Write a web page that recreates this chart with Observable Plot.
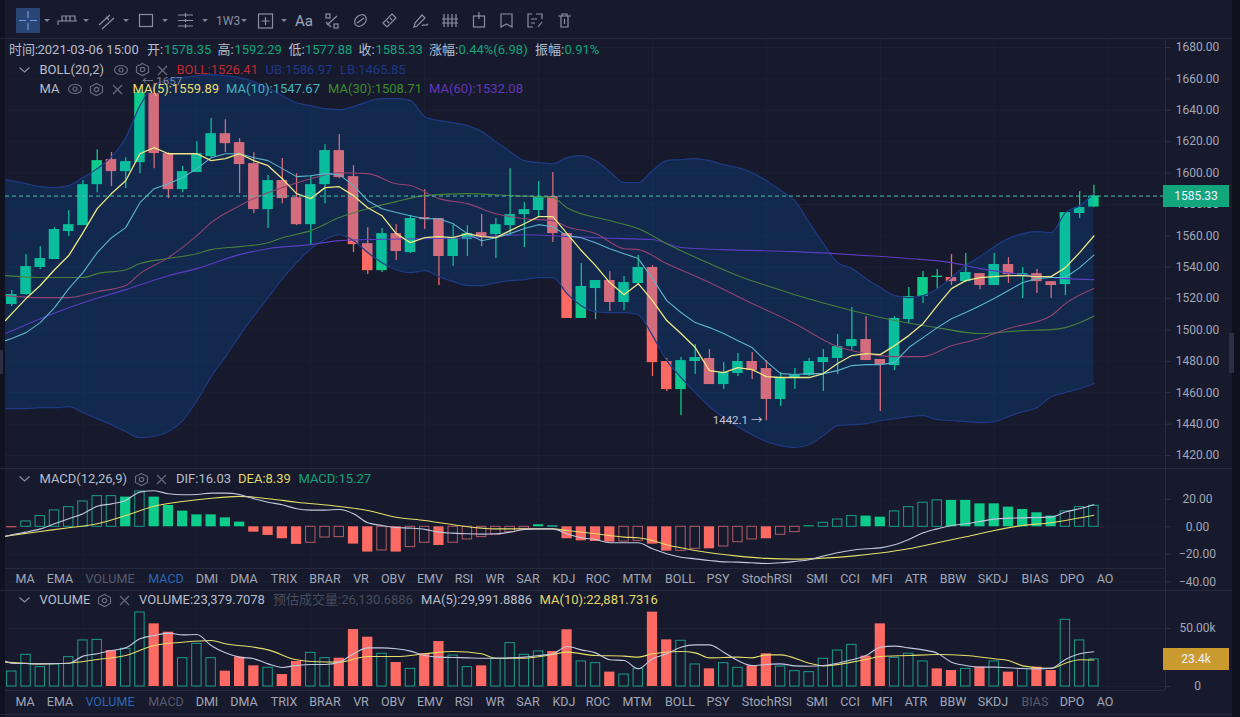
<!DOCTYPE html>
<html><head><meta charset="utf-8">
<script src="https://cdn.jsdelivr.net/npm/d3@7"></script>
<script src="https://cdn.jsdelivr.net/npm/@observablehq/plot@0.6"></script>
<style>
html,body{margin:0;padding:0;background:#161a2c;overflow:hidden}
#page{position:relative;width:1240px;height:717px;overflow:hidden;background:#161a2c;font-family:Roboto,"Noto Sans CJK SC",sans-serif;font-size:13px}
#page svg.chart{position:absolute;left:0;background:transparent;overflow:visible}
.t{position:absolute;white-space:pre;line-height:16px;transform:translateY(-8px)}
.box{position:absolute}
.ic{position:absolute;overflow:visible}
.tag{position:absolute;left:1163px;width:66px;height:22px;line-height:22px;text-align:center;color:#eef;font-size:12px;transform:translateY(-11px)}
</style></head><body><div id="page"></div>
<script>
// ---------- candles ----------
const candleOpen=[1516.2,1522.6,1539.8,1544.9,1562.7,1566.5,1592.6,1608.6,1600.9,1606.6,1650.6,1612.4,1589.4,1600.3,1610.5,1625.1,1619.4,1606,1576.7,1595.2,1584.3,1567.1,1592.6,1614.3,1597.7,1555,1537.8,1561.4,1549.3,1571.6,1571,1546.8,1557.6,1562,1560.8,1566.5,1573.5,1576.1,1585,1561.4,1507.3,1526.4,1531.5,1517.5,1529.6,1539.8,1479.9,1462,1479.9,1481.8,1465.2,1472.2,1479.9,1475.4,1455.7,1469.1,1471,1479.2,1481.8,1489.4,1493.9,1481.2,1477.3,1506.6,1521.3,1533.4,1533.4,1530.8,1535.9,1528.3,1541.7,1534,1535.9,1530.8,1528.9,1574.2,1578.35];
const candleClose=[1522.6,1540.4,1545.5,1564,1567.1,1592.6,1607.9,1600.9,1607.3,1651.2,1612.4,1589.4,1600.9,1612.4,1625.1,1618.7,1605.4,1576.7,1595.2,1583.7,1567.1,1592.6,1614.3,1597.1,1554.4,1537.8,1561.4,1550,1571,1570.3,1546.8,1558.2,1561.4,1559.5,1567.1,1573.5,1576.7,1585,1561.4,1507.3,1527.7,1531.5,1517.5,1530.2,1539.8,1479.2,1462,1480.5,1482.4,1465.2,1472.9,1479.9,1474.1,1455.7,1469.7,1471,1479.9,1482.4,1489.4,1493.9,1480.5,1478,1507.3,1521.3,1533.4,1534.3,1530.8,1536.6,1528.3,1541.7,1535.3,1535.9,1530.8,1528.3,1574.8,1578,1585.33];
const candleHigh=[1525.1,1548,1553.1,1565.2,1576.1,1595.2,1614.9,1613,1609.8,1653.8,1657,1613,1604.1,1620,1634.7,1634,1621.9,1613,1598.4,1609.2,1599.6,1598.4,1618.1,1624.5,1604.7,1565.2,1564.6,1567.1,1572.9,1589.4,1571,1566.5,1566.5,1573.5,1571,1602.8,1581.2,1594.5,1600.3,1561.4,1542.3,1531.5,1537.2,1534,1547.4,1541,1481.8,1482.4,1490.7,1487.5,1479.2,1485,1485.6,1480.5,1472.9,1475.4,1481.8,1487.5,1497.1,1514.3,1508.5,1481.2,1508.5,1527,1537.2,1538.5,1548,1548.7,1535.9,1548.7,1546.1,1539.8,1538.5,1530.8,1574.8,1588.2,1592.29];
const candleLow=[1514.9,1521.9,1538.5,1544.9,1559.5,1566.5,1587.5,1591.4,1590.1,1599.6,1602.8,1583.7,1587.5,1600.3,1609.8,1613,1586.9,1574.2,1564.6,1580.5,1566.5,1553.8,1580.5,1596.4,1549.3,1535.3,1536.6,1544.2,1548.7,1564,1528.3,1540.4,1546.8,1553.1,1545.5,1560.1,1552.5,1572.2,1555.7,1507.3,1507.3,1506.6,1511.7,1512.4,1528.9,1470.3,1460.8,1445.5,1471.6,1465.2,1462,1470.3,1468.4,1442.1,1451.2,1462,1470.3,1460.8,1471.6,1486.9,1480.5,1448,1474.1,1504.1,1516.8,1525.7,1528.3,1530.2,1525.7,1528.3,1529.6,1520,1523.2,1520,1521.9,1571,1577.88];
// ---------- Bollinger band (first value sits at the left edge of the pane) ----------
const lineIndex=[-0.44,...d3.range(77)];
const bollUpper=[1595.8,1595.1,1593.2,1591.3,1590.7,1592,1597.1,1602.8,1610.4,1622.5,1642.9,1655.7,1659.5,1660.8,1662,1662.7,1662,1660.8,1658.2,1654.4,1649.3,1644.8,1642.9,1641,1640.4,1642.3,1645.5,1647.4,1647.4,1646.1,1635.9,1633.4,1632.1,1630.2,1626.4,1620,1613.6,1607.9,1606.6,1606,1609.8,1611.1,1607.9,1600.9,1593.9,1593.9,1601.5,1607.9,1608.5,1609.2,1607.9,1605.3,1603.4,1600.2,1595.1,1588.8,1582.4,1568.4,1555,1542.9,1539.1,1532.7,1527,1521.9,1520.6,1521.9,1526.3,1533.4,1541,1546.7,1553.1,1558.2,1561.4,1562.7,1562,1574.8,1579.2,1586.97];
const bollLower=[1449.9,1449.9,1449.9,1450.5,1450.5,1451.2,1447.4,1443.5,1439.7,1435.3,1431.4,1432.1,1435.3,1442.3,1455,1470.3,1483,1496.4,1509.1,1520.6,1532.7,1542.9,1551.8,1557.6,1560.7,1556.9,1549.3,1542.9,1538.4,1536.5,1537.8,1534,1530.8,1528.3,1528.3,1530.2,1531.4,1532.1,1533.4,1533.4,1523.2,1515.5,1511.7,1511.1,1511.1,1509.8,1496.4,1480.5,1469.7,1460.1,1451.2,1444.2,1438.4,1433.3,1428.9,1426.3,1425.1,1427,1432.7,1439.1,1439.7,1440.3,1442.3,1443.5,1444.8,1445.4,1442.9,1442.3,1441.6,1441,1441.6,1444.8,1448,1450.5,1457.5,1460.1,1462.6,1465.85];
// ---------- moving averages ----------
const ma5=[1506,1510.4,1520,1528.3,1538.4,1547.4,1562,1577.3,1586.9,1595.1,1612.3,1616.2,1612.3,1612.3,1612.3,1607.9,1609.2,1612.3,1607.9,1604.7,1596.4,1586.9,1583.7,1590.7,1591.3,1585.6,1577.9,1572.8,1561.4,1555.6,1558.8,1559.5,1558.8,1561.4,1559.5,1558.8,1563.3,1567.7,1572.2,1572.2,1561.4,1550.6,1541,1530.2,1522.5,1529.5,1518.7,1506,1497.7,1488.8,1474.1,1472.8,1476,1474.7,1470.3,1469.7,1469.7,1469.7,1472.2,1478.6,1483.7,1484.9,1484.3,1490,1496.4,1504,1515.5,1526.3,1531.4,1533.4,1534,1534.6,1534.6,1534,1534,1539.7,1549.3,1559.89];
const ma10=[1493.2,1494.5,1498.3,1504.7,1514.2,1526.3,1536.5,1549.3,1558.8,1565.2,1581.1,1590,1593.2,1597.1,1602.8,1609.8,1612.3,1612.3,1609.8,1607.9,1602.8,1597.7,1598.3,1599.6,1599,1592,1582.4,1577.3,1574.8,1572.8,1570.9,1570.9,1567.7,1561.4,1556.9,1558.8,1561.4,1564.6,1567.1,1565.8,1560.1,1558.8,1555.6,1551.8,1548.6,1545.5,1532.7,1518.7,1511.1,1504.7,1501.5,1497.7,1493.2,1488.8,1479.8,1472.2,1471.6,1472.2,1472.2,1474.1,1477.3,1477.9,1477.9,1479.2,1488.8,1495.1,1501.5,1507.2,1511.1,1515.5,1520,1525.1,1530.2,1532.7,1533.4,1533.4,1539.7,1547.67];
const ma20Index=[-0.44,2,4,6,8,9,11,13,14,16,17,19,21,23,25,27,28,30,32,34,36,38,39,41,43,44,46,49,52,54,55,58,60,62,64,66,68,70,73,74,76];
const ma20=[1521.9,1520.6,1520.6,1524.4,1528.3,1535.9,1546.1,1560.1,1568.4,1579.2,1583.7,1590.7,1596.4,1600.2,1599.6,1593.2,1592,1583.7,1580.5,1574.1,1570.9,1569.7,1565.8,1561.4,1551.8,1551.2,1542.3,1530.2,1516.8,1508.5,1504,1489.4,1484.9,1483,1483,1490,1494.5,1500.9,1509.1,1516.8,1526.41];
const ma30Index=[-0.44,2,5,6,8,9,11,13,14,16,18,19,21,23,25,27,29,32,35,38,39,42,44,46,49,51,53,55,59,62,65,68,71,73,74,76];
const ma30=[1534.6,1533.4,1533.4,1535.9,1538.4,1542.3,1545.5,1548.6,1551.2,1553.1,1555.6,1558.8,1563.3,1571.6,1577.3,1581.8,1585.6,1586.9,1585.6,1584.3,1577.9,1569.7,1564.6,1555,1542.3,1534.6,1528.3,1522.5,1512.4,1506,1501.5,1497.7,1499.6,1500.2,1501.5,1508.71];
const ma60Index=[-0.44,2,5,8,11,13,16,18,21,23,25,32,36,39,43,45,47,50,55,60,63,66,68,71,74,76];
const ma60=[1497.7,1507.2,1517.4,1525.7,1534.6,1539.1,1548,1551.8,1554.4,1556.9,1557.6,1558.8,1560.7,1559.5,1558.2,1557.6,1552.5,1551.2,1549.9,1547.4,1545.5,1542.9,1539.1,1535.3,1532.7,1532.08];
const priceTicks=[1420,1440,1460,1480,1500,1520,1540,1560,1580,1600,1620,1640,1660,1680];
const lastPrice=1585.33, highMark=1657, lowMark=1442.1;
// ---------- MACD ----------
const macdHist=[-0.7,3.9,7.8,11.9,14.3,18.4,22.3,22.3,21.6,25.7,21.6,15.5,11.4,8.7,8.7,6.5,3.4,-3.9,-6.3,-8.7,-12.8,-11.6,-7.8,-7.5,-12.6,-18.4,-17.2,-18.4,-14.8,-11.6,-13.6,-11.6,-9.2,-7.5,-5.8,-3.9,-1.5,1.5,0.5,-8.7,-10.2,-10.7,-11.2,-10.7,-10.2,-12.6,-17.7,-17.5,-16,-16,-14.3,-11.2,-9.2,-8.7,-5.8,-3.9,0.7,2.9,5.3,7.8,7.8,7,11.2,14.3,17.5,19.2,19.2,19.2,16.7,16.7,14.3,12.6,10.2,7.8,11.2,14.3,15.27];
const macdSolid=[0,8,10,11,12,13,14,15,16,17,18,19,20,24,25,27,30,37,39,40,41,42,45,46,49,53,56,60,61,66,67,68,69,70,71,72,73];
const dif=[-7,-5.8,-3.9,-1.5,2.2,5.8,9.5,15,16.7,19.2,25.2,26.2,24,23.3,23.5,24.5,24.5,23.5,20.4,17.9,16,13.1,12.1,12.1,12.6,9.5,2.9,1,-0.5,-1,-1.9,-3.9,-4.6,-5.1,-5.3,-5.1,-3.9,-1.9,-1.5,-1.5,-5.1,-8,-9.2,-11.6,-11.6,-11.6,-16,-19.6,-22.1,-23.3,-24.5,-25.5,-25.7,-26.2,-26.7,-26.2,-25.2,-24,-21.3,-18.9,-17,-16,-15.3,-13.1,-9.2,-4.4,-1.5,1,2.2,3.9,5.6,6.3,6.5,6.8,7,10.7,13.1,16.03];
const deaIndex=[-0.44,2,4,6,8,10,12,14,16,18,20,23,25,27,29,31,34,36,38,39,41,43,44,45,46,48,51,53,55,57,59,61,63,65,67,69,71,73,74,76];
const dea=[-6.8,-3.4,-0.7,2.2,8.2,15,18.4,20.8,22.1,20.4,17.9,14.8,11.9,7,4.6,1.5,-1.5,-1.5,-1.5,-2.7,-5.1,-7.5,-8,-9.9,-13.1,-17.2,-21.3,-23,-23.5,-22.8,-21.3,-19.1,-16,-11.6,-7.3,-2.7,1,2.9,4.6,8.39];
const macdTicks=[-40,-20,0,20];
// ---------- volume (thousands) ----------
const volume=[12.9,27.3,16.7,19,25.3,39.7,40.2,31,32.5,63.8,54,46.8,24.4,36.8,24.4,13.2,25.3,17.8,16.1,10.3,21.6,29,24.4,24.4,49.1,42.5,28.2,20.7,15.2,28.2,38.8,26.7,16.7,17.8,23.9,37.4,27.3,30.2,30.2,48.9,21.6,20.1,12.4,10.3,15.2,64.1,40.2,39.4,19,15.2,20.1,16.1,17.8,28.2,17.2,13.2,12.4,23.9,31,35.9,26.2,54,24.7,28.2,21.6,15.2,13.8,15.2,16.7,21.6,12.4,15.2,16.7,13.8,57.5,39.7,23.4];
const volumeDown=[7,10,11,15,16,17,19,20,23,24,25,27,29,30,33,38,39,42,45,46,49,52,53,60,61,65,66,68,70,72,73];
const volMa5=[21.8,20.1,19.8,19.5,19.8,20.1,26.2,28.2,31,33.3,41.1,44,46,44.5,44.8,35.4,29,25.3,23.9,19.5,16.4,18.1,19,19,21,28.2,33.3,33.3,32.5,30.5,26.7,25.3,25,24.7,24.4,24.4,24.7,25.3,26.7,28.2,34.5,31.6,29,23,22.4,15.2,23.9,28.2,33.9,35.9,35.9,29.6,22.4,18.1,19,19.5,17.8,17.5,18.1,20.1,23,26.7,33.9,34.8,33.3,31.6,28.7,21,18.1,16.7,16.7,16.1,15.5,15.2,15.8,23.3,28.2,29.99];
const volMa10Index=[-0.44,2,4,6,8,10,12,14,15,17,18,20,21,23,25,27,29,31,33,34,36,38,39,41,43,44,45,47,48,49,51,52,53,54,56,57,59,60,61,63,65,67,69,70,71,73,74,75,76];
const volMa10=[21,19.5,20.1,23.3,26.7,35.4,38.2,39.7,36.8,33.9,31.6,23,21.6,21,25.9,25.9,28.2,30.2,28.2,24.4,24.4,27.6,29.6,26.7,26.2,25.3,28.2,30.2,29,24.7,25.3,24.7,27.3,27.3,20.1,17.8,21,23.3,25.9,26.7,27.6,26.7,23.9,22.4,17.8,15.5,20.1,23,22.88];
const volumeTicks=[0,50];
const lastVolume=23.38;
// ---------- tabs ----------
const tabNames=["MA","EMA","VOLUME","MACD","DMI","DMA","TRIX","BRAR","VR","OBV","EMV","RSI","WR","SAR","KDJ","ROC","MTM","BOLL","PSY","StochRSI","SMI","CCI","MFI","ATR","BBW","SKDJ","BIAS","DPO","AO"];
const tabCentres=[25,60,110,166,207,244,284,325,361,393,430,464,495,528,564,598,637,680,718,767,817,850,882,916,953,993,1035,1072,1105];

// ---------- colours ----------
const UP="#0dcb8a",DOWN="#fc6a63",UPH="#1a9d8a",DOWNH="#b45c66",AXIS="#a2a7b8",GRID="#1b2034";
const page=document.getElementById("page");
const xScale={domain:[-0.4425,81.03],axis:null};
const base={width:1240,marginLeft:5,marginRight:75,marginTop:0,marginBottom:0,x:xScale,
  style:{background:"transparent",fontFamily:'Roboto,"Noto Sans CJK SC",sans-serif',fontSize:"12px"}};
const gridIdx=[5,13,21,29,37,45,53,61,69,77];
const seq=(ix,vs)=>ix.map((i,k)=>({i,v:vs[k]}));
const HALF=0.37;
const line=(rows,stroke,w=1.1,curve="monotone-x")=>Plot.line(rows,{x:"i",y:"v",stroke,strokeWidth:w,curve});
const axis=(ticks,fmt)=>Plot.axisY(ticks,{anchor:"right",label:null,tickSize:5,tickPadding:27,textAnchor:"middle",stroke:"#2d3247",fill:AXIS,textStroke:"none",tickFormat:fmt});
const grid=(ticks)=>[Plot.ruleX(gridIdx,{stroke:GRID}),Plot.ruleY(ticks,{stroke:GRID})];
function place(svg,top){svg.classList.add("chart");svg.style.top=top+"px";page.appendChild(svg);return svg;}

// ---------- main pane ----------
const candles=candleOpen.map((o,i)=>({i,o,c:candleClose[i],h:candleHigh[i],l:candleLow[i],up:candleClose[i]>=o}));
const band=lineIndex.map((i,k)=>({i,u:bollUpper[k],l:bollLower[k]}));
const candleMarks=(rows,color)=>[
  Plot.ruleX(rows,{x:"i",y1:"l",y2:"h",stroke:color,strokeWidth:1.3}),
  Plot.rect(rows,{x1:d=>d.i-HALF,x2:d=>d.i+HALF,y1:d=>Math.min(d.o,d.c),y2:d=>Math.max(d.o,d.c),fill:color})];
const main=Plot.plot({...base,height:430,y:{domain:[1411.72,1685.73],axis:null},marks:[
  ...grid(priceTicks),
  ...candleMarks(candles.filter(d=>!d.up),DOWN),
  ...candleMarks(candles.filter(d=>d.up),UP),
  Plot.areaY(band,{x:"i",y1:"l",y2:"u",fill:"#0078ff",fillOpacity:0.16,curve:"monotone-x"}),
  Plot.line(band,{x:"i",y:"u",stroke:"#1f3a85",strokeWidth:1.2,curve:"monotone-x"}),
  Plot.line(band,{x:"i",y:"l",stroke:"#1f3a85",strokeWidth:1.2,curve:"monotone-x"}),
  line(seq(ma60Index,ma60),"#5a3dc0"),
  line(seq(ma30Index,ma30),"#4a7f3c"),
  line(seq(ma20Index,ma20),"#94436f"),
  line(seq(lineIndex,ma10),"#5cb4cc",1.1,"linear"),
  line(seq(lineIndex,ma5),"#efe783",1.3,"linear"),
  Plot.ruleY([lastPrice],{stroke:"#46c4ae",strokeDasharray:"4 3",strokeWidth:1}),
  Plot.text([highMark],{x:10,y:d=>d,text:d=>"← "+d,textAnchor:"end",dx:28,dy:-2,fill:"#7f8496",fontSize:11.5}),
  Plot.text([lowMark],{x:53,y:d=>d,text:d=>d+" →",textAnchor:"end",dx:-4,dy:-1,fill:"#c2c6d6",fontSize:11.5}),
  axis(priceTicks,d3.format(".2f"))
]});
place(main,38);

// ---------- MACD pane ----------
const hist=macdHist.map((v,i)=>({i,v,solid:macdSolid.includes(i)}));
const histMarks=(rows,color)=>Plot.rect(rows.filter(d=>d.solid),{x1:d=>d.i-0.36,x2:d=>d.i+0.36,y1:0,y2:"v",fill:color});
const hollowMarks=(rows,color)=>Plot.rect(rows.filter(d=>!d.solid),{x1:d=>d.i-0.33,x2:d=>d.i+0.33,y1:0,y2:"v",fill:"none",stroke:color,strokeWidth:1});
const macd=Plot.plot({...base,height:122,y:{domain:[-46.33,42.4],axis:null},marks:[
  ...grid(macdTicks),
  histMarks(hist.filter(d=>d.v>=0),UP),histMarks(hist.filter(d=>d.v<0),DOWN),
  hollowMarks(hist.filter(d=>d.v>=0),UPH),hollowMarks(hist.filter(d=>d.v<0),DOWNH),
  line(seq(deaIndex,dea),"#e6dd6a"),
  line(seq(lineIndex,dif),"#c3c7e0"),
  axis(macdTicks,d3.format(".2f"))
]});
place(macd,468);

// ---------- Volume pane ----------
const vols=volume.map((v,i)=>({i,v,solid:volumeDown.includes(i)}));
const vol=Plot.plot({...base,height:105,y:{domain:[-7.76,82.76],axis:null},marks:[
  ...grid(volumeTicks),
  Plot.rect(vols.filter(d=>d.solid),{x1:d=>d.i-0.36,x2:d=>d.i+0.36,y1:0,y2:"v",fill:DOWN}),
  Plot.rect(vols.filter(d=>!d.solid),{x1:d=>d.i-0.33,x2:d=>d.i+0.33,y1:0,y2:"v",fill:"none",stroke:UPH,strokeWidth:1}),
  line(seq(volMa10Index,volMa10),"#e6dd6a"),
  line(seq(lineIndex,volMa5),"#c3c7e0"),
  axis(volumeTicks,d=>d===0?"0":d3.format(".2f")(d)+"k")
]});
place(vol,590);

// ---------- chrome ----------
function box(l,t,w,h,bg){const d=document.createElement("div");d.className="box";d.style.cssText=`left:${l}px;top:${t}px;width:${w}px;height:${h}px;background:${bg}`;page.appendChild(d);return d;}
function txt(x,y,s,color,opts={}){const d=document.createElement("div");d.className="t";d.textContent=s;d.style.left=x+"px";d.style.top=y+"px";d.style.color=color;
  if(opts.size)d.style.fontSize=opts.size+"px";
  if(opts.center)d.style.transform="translate(-50%,-8px)";page.appendChild(d);return d;}
function icon(x,y,w,h,inner,color="#8a90a4"){const s=document.createElementNS("http://www.w3.org/2000/svg","svg");s.setAttribute("class","ic");s.setAttribute("width",w);s.setAttribute("height",h);s.style.left=x+"px";s.style.top=y+"px";
  s.innerHTML=`<g fill="none" stroke="${color}" stroke-width="1.2">${inner}</g>`;page.appendChild(s);}
const eye='<ellipse cx="7" cy="6" rx="6.5" ry="4.5"/><circle cx="7" cy="6" r="2"/>';
const hex='<path d="M6.5 0.5L12.5 3.5V9.5L6.5 12.5L0.5 9.5V3.5Z"/><circle cx="6.5" cy="6.5" r="2.2"/>';
const cross='<path d="M1 1L10 10M10 1L1 10"/>';
const chev='<path d="M0.5 0.5L5.5 5L10.5 0.5"/>';
const L="#b9bdcc",G="#12a37c";
// strips and separators
box(0,0,5,717,"#10131f");box(1232,0,8,717,"#0e111c");
box(1229,333,5,40,"#2a2f45");box(0,350,3,24,"#2a2f45");
box(0,38,1232,1,"#22273a");box(0,468,1232,1,"#252a3e");box(0,590,1232,1,"#252a3e");
box(5,568,1160,1,"#252a3e");box(5,690,1160,1,"#252a3e");box(0,714,1232,1,"#22273a");
box(1165,38,1,652,"#262b40");
// toolbar
box(16,8,24,25,"#2a4677");
icon(16,8,24,25,'<path d="M12 3V10M12 15V22M3 12.5H10M14 12.5H21"/>',"#6d9ae0");
const caret=x=>icon(x,19,6,4,'<path d="M0 0H6L3 3Z" fill="#7d8397" stroke="none"/>');
[44,83,123,162,202,241,281].forEach(caret);
icon(57,14,21,12,'<path d="M1 11V7H20M5 7V2H18V7M9 2V7M13 2V7"/>');
icon(98,12,17,18,'<path d="M1 13L12 3M4 17L16 6M8 5L11 8"/>');
icon(139,14,14,13,'<rect x="0.5" y="0.5" width="13" height="12"/>');
icon(178,13,15,15,'<path d="M0 2H15M0 7.5H15M0 13H15M7.5 0V4M7.5 6V9M7.5 11V15"/>');
txt(216,21,"1W3","#8a90a4",{size:12});
icon(258,13,15,16,'<rect x="0.5" y="1" width="14" height="14"/><path d="M7.5 4V12M3.5 8H11.5"/>');
txt(295,21,"Aa","#a3a8ba",{size:15});
icon(325,13,14,16,'<rect x="1" y="1" width="4" height="4"/><rect x="9" y="11" width="4" height="4"/><path d="M2 12L12 3M1 9L6 14"/>');
icon(353,13,15,15,'<ellipse cx="7.5" cy="7.5" rx="6.5" ry="5" transform="rotate(-45 7.5 7.5)"/><path d="M4 10L11 5"/>');
icon(382,13,15,15,'<path d="M10 1L14 5L5 14L1 10ZM8 5L10 7M5 8L7 10"/>');
icon(413,13,16,15,'<path d="M1 14L2 10L9 2L12 5L4 13ZM9 13C11 10 12 14 15 11"/>');
icon(442,14,17,13,'<path d="M2 0V13M6 0V13M10 0V13M14 0V13M0 5H16M0 9H16"/>');
icon(473,12,12,16,'<rect x="0.5" y="4" width="11" height="11"/><path d="M6 0V7"/>');
icon(500,13,13,15,'<path d="M1 1H12V14L6.5 11L1 14Z"/>');
icon(527,13,17,16,'<path d="M5 1H1V14H6M9 1H15V6M4 6H10M4 10H8M11 14L15 9"/>');
icon(558,13,13,15,'<path d="M0 3H13M3 3V14H10V3M4 3V1H9V3M6.5 6V11"/>');
// header rows
[[9,"时间:",L],[37.5,"2021-03-06 15:00",L],[147,"开:",L],[164,"1578.35",G],[217.5,"高:",L],[234.5,"1592.29",G],[288.5,"低:",L],[305,"1577.88",G],[358.5,"收:",L],[375.5,"1585.33",G],[429,"涨幅:",L],[458.5,"0.44%(6.98)",G],[535,"振幅:",L],[564.5,"0.91%",G]].forEach(([x,s,c])=>txt(x,50,s,c));
icon(19,67,11,6,chev);txt(39.5,70,"BOLL(20,2)",L);
icon(114,64,14,12,eye,"#666c80");icon(136,63,13,13,hex,"#666c80");icon(157,65,11,11,cross,"#666c80");
txt(176.5,70,"BOLL:1526.41","#bb2a35");txt(265.5,70,"UB:1586.97","#1f3788");txt(340,70,"LB:1465.85","#1f3788");
txt(39.5,89,"MA",L);
icon(68,83,14,12,eye,"#666c80");icon(90,83,13,13,hex,"#666c80");icon(112,84,11,11,cross,"#666c80");
txt(132.5,89,"MA(5):1559.89","#e9de70");txt(226,89,"MA(10):1547.67","#44b3bd");txt(328,89,"MA(30):1508.71","#3f8a2f");txt(429,89,"MA(60):1532.08","#6436b8");
icon(19,476,11,6,chev);txt(39.5,479,"MACD(12,26,9)",L);icon(135,473,13,13,hex,"#666c80");icon(156,474,11,11,cross,"#666c80");
txt(176,479,"DIF:16.03",L);txt(238,479,"DEA:8.39","#e0d864");txt(298.5,479,"MACD:15.27",G);
icon(19,597,11,6,chev);txt(39.5,600,"VOLUME",L);icon(98,594,13,13,hex,"#666c80");icon(119,595,11,11,cross,"#666c80");
txt(139,600,"VOLUME:23,379.7078",L);txt(273,600,"预估成交量:26,130.6886","#474c5e");txt(421,600,"MA(5):29,991.8886",L);txt(539.5,600,"MA(10):22,881.7316","#e0d864");
// tab rows
const tabColor=(n,active,dim)=>n===active?"#2d66b8":dim.includes(n)?"#565b6e":"#a2a7b8";
tabNames.forEach((n,k)=>{txt(tabCentres[k],579,n,tabColor(n,"MACD",["VOLUME"]),{center:true,size:12.5});txt(tabCentres[k],702,n,tabColor(n,"VOLUME",["MACD","BIAS"]),{center:true,size:12.5});});
// last-value tags placed through the panes' own scales
const tagAt=(chart,top,value,label,bg)=>{const d=document.createElement("div");d.className="tag";d.textContent=label;d.style.top=(top+chart.scale("y").apply(value))+"px";d.style.background=bg;page.appendChild(d);};
tagAt(main,38,lastPrice,"1585.33","#12a67c");
tagAt(vol,590,lastVolume,"23.4k","#c99a2e");
</script></body></html>
